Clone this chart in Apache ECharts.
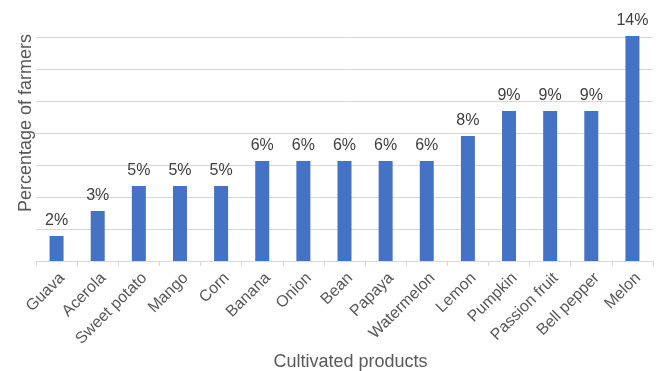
<!DOCTYPE html>
<html>
<head>
<meta charset="utf-8">
<script src="https://cdn.jsdelivr.net/npm/echarts@6/dist/echarts.min.js"></script>
<style>
html,body{margin:0;padding:0;background:#fff;}
#c{width:664px;height:371px;}
</style>
</head>
<body>
<div id="c"></div>
<script>
const categories = ["Guava","Acerola","Sweet potato","Mango","Corn","Banana","Onion","Bean","Papaya","Watermelon","Lemon","Pumpkin","Passion fruit","Bell pepper","Melon"];
const values = [1.5625,3.125,4.6875,4.6875,4.6875,6.25,6.25,6.25,6.25,6.25,7.8125,9.375,9.375,9.375,14.0625];
const yTicks = [0,2,4,6,8,10,12,14];
const xTitle = "Cultivated products";
const yTitle = "Percentage of farmers";

const font = "Liberation Sans, Arial, sans-serif";
const chart = echarts.init(document.getElementById('c'));
chart.setOption({
  animation:false,
  backgroundColor:'#fff',
  grid:{left:36,right:11,top:37,bottom:110,containLabel:false},
  xAxis:{
    type:'category',
    data:categories,
    axisLine:{lineStyle:{color:'#d9d9d9'}},
    axisTick:{show:true,alignWithLabel:false,length:5,lineStyle:{color:'#d9d9d9'}},
    axisLabel:{rotate:45,interval:0,margin:9,verticalAlign:'top',color:'#595959',fontSize:16,fontFamily:font}
  },
  yAxis:{
    type:'value',
    min:yTicks[0],
    max:yTicks[yTicks.length-1],
    interval:2,
    axisLine:{show:false},
    axisTick:{show:false},
    axisLabel:{show:false},
    splitLine:{lineStyle:{color:'#d9d9d9'}}
  },
  graphic:[
    {type:'text',x:350.5,y:362,style:{text:xTitle,fill:'#595959',font:'18px '+font,align:'center',verticalAlign:'middle'}},
    {type:'text',x:26,y:123,rotation:Math.PI/2,style:{text:yTitle,fill:'#595959',font:'18px '+font,align:'center',verticalAlign:'middle'}}
  ],
  series:[{
    type:'bar',
    data:values,
    barWidth:14,
    clip:false,
    itemStyle:{color:'#4472C4'},
    label:{show:true,position:'top',distance:7,color:'#404040',fontSize:16,fontFamily:font,
      formatter:p=>Math.round(p.value)+'%'}
  }]
});
</script>
</body>
</html>
